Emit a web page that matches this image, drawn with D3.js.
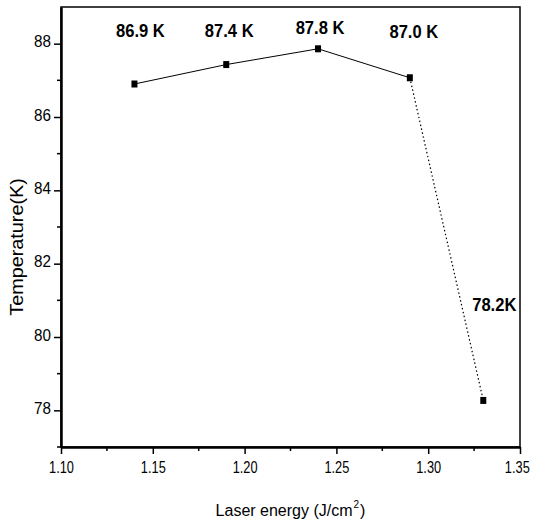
<!DOCTYPE html>
<html>
  <head>
    <meta charset="utf-8">
    <style>
    body { margin: 0; background: #fff; }
    #chart-area svg { display: block; }
    text { font-family: "Liberation Sans", Arial, sans-serif; fill: #000; }
    .tick-label { font-size: 16px; }
    .axis-title { font-size: 18px; }
    .point-label { font-size: 18px; font-weight: bold; }
    </style>
  </head>
  <body>
    <div id="chart-area"></div>

    <script src="https://d3js.org/d3.v7.min.js"></script>
    <script>
      // Data
      const energy = [1.14, 1.19, 1.24, 1.29, 1.33];
      const temperature = [86.9, 87.43, 87.86, 87.07, 78.27];
      const pointLabels = ["86.9 K", "87.4 K", "87.8 K", "87.0 K", "78.2K"];
      const xTicks = [1.10, 1.15, 1.20, 1.25, 1.30, 1.35];
      const yTicks = [78, 80, 82, 84, 86, 88];

      const width = 533;
      const height = 523;
      const margin = { top: 7, right: 13, bottom: 76, left: 61 };

      const svg = d3.select("#chart-area")
        .append("svg")
          .attr("width", width)
          .attr("height", height);

      const x = d3.scaleLinear()
        .domain([1.10, 1.35])
        .range([margin.left, width - margin.right]);

      const y = d3.scaleLinear()
        .domain([77, 89])
        .range([height - margin.bottom, margin.top]);

      // squeeze text horizontally, the scan uses a narrow face
      function condense(sel, factor) {
        sel.each(function() {
          const w = this.getComputedTextLength();
          d3.select(this)
            .attr("textLength", w * factor)
            .attr("lengthAdjust", "spacingAndGlyphs");
        });
      }

      // frame (top / right thin)
      svg.append("rect")
        .attr("x", x(1.10))
        .attr("y", y(89))
        .attr("width", x(1.35) - x(1.10))
        .attr("height", y(77) - y(89))
        .attr("fill", "none")
        .attr("stroke", "#000")
        .attr("stroke-width", 1.5);

      // minor ticks
      const xMinor = [1.125, 1.175, 1.225, 1.275, 1.325];
      const yMinor = [77, 79, 81, 83, 85, 87];

      svg.selectAll(".x-minor")
        .data(xMinor)
        .enter().append("line")
          .attr("x1", d => x(d)).attr("x2", d => x(d))
          .attr("y1", y(77)).attr("y2", y(77) + 4)
          .attr("stroke", "#000").attr("stroke-width", 1.5);

      svg.selectAll(".y-minor")
        .data(yMinor)
        .enter().append("line")
          .attr("x1", x(1.10) - 4).attr("x2", x(1.10))
          .attr("y1", d => y(d)).attr("y2", d => y(d))
          .attr("stroke", "#000").attr("stroke-width", 1.5);

      // axes
      const xAxis = svg.append("g")
        .attr("transform", `translate(0, ${y(77)})`)
        .call(d3.axisBottom(x).tickValues(xTicks).tickFormat(d3.format(".2f")).tickSizeInner(7).tickSizeOuter(0).tickPadding(8));

      const yAxis = svg.append("g")
        .attr("transform", `translate(${x(1.10)}, 0)`)
        .call(d3.axisLeft(y).tickValues(yTicks).tickSizeInner(7).tickSizeOuter(0).tickPadding(3));

      [xAxis, yAxis].forEach(g => {
        g.attr("font-family", null).attr("font-size", null);
        g.select(".domain").attr("stroke-width", 2.5);
        g.selectAll(".tick line").attr("stroke-width", 1.5);
        g.selectAll(".tick text").attr("class", "tick-label");
      });
      xAxis.selectAll(".tick text")
        .attr("transform", "scale(0.8,1)")
        // last label sits right at the window edge
        .attr("x", d => d === 1.35 ? -4 : 0);
      condense(yAxis.selectAll(".tick text"), 0.95);
      yAxis.selectAll(".tick text").attr("dy", "0.2em");

      // axis titles
      const xTitle = svg.append("text")
        .attr("class", "axis-title")
        .style("font-size", "16px")
        .attr("x", (x(1.10) + x(1.35)) / 2)
        .attr("y", 516)
        .attr("text-anchor", "middle");
      xTitle.append("tspan").text("Laser energy (J/cm");
      xTitle.append("tspan").attr("dy", -8).attr("dx", 1).style("font-size", "10px").text("2");
      xTitle.append("tspan").attr("dy", 8).attr("dx", 1).text(")");

      const yTitle = svg.append("text")
        .attr("class", "axis-title")
        .attr("transform", `translate(23, 247) rotate(-90)`)
        .attr("text-anchor", "middle")
        .text("Temperature(K)");
      condense(yTitle, 1.1);

      // line segments: solid for first four points, dotted for the last
      const pts = energy.map((e, i) => ({ e: e, t: temperature[i], label: pointLabels[i] }));
      const line = d3.line().x(d => x(d.e)).y(d => y(d.t));

      svg.append("path")
        .attr("d", line(pts.slice(0, 4)))
        .attr("fill", "none")
        .attr("stroke", "#000")
        .attr("stroke-width", 1);

      svg.append("path")
        .attr("d", line(pts.slice(3)))
        .attr("fill", "none")
        .attr("stroke", "#000")
        .attr("stroke-width", 1.2)
        .attr("stroke-dasharray", "1.5,2.5");

      svg.selectAll(".marker")
        .data(pts)
        .enter().append("rect")
          .attr("x", d => x(d.e) - 3)
          .attr("y", d => y(d.t) - 3.5)
          .attr("width", 6)
          .attr("height", 7)
          .attr("fill", "#000");

      // value labels
      const labelPos = [
        { dx: 6, y: 37 }, { dx: 3, y: 37 }, { dx: 2, y: 34 }, { dx: 4, y: 38 }, { dx: 11, y: 311 }
      ];
      const labels = svg.selectAll(".point-label")
        .data(pts)
        .enter().append("text")
          .attr("class", "point-label")
          .attr("x", (d, i) => x(d.e) + labelPos[i].dx)
          .attr("y", (d, i) => labelPos[i].y)
          .attr("text-anchor", "middle")
          .text(d => d.label);
      condense(labels, 0.92);
    </script>
  </body>
</html>
